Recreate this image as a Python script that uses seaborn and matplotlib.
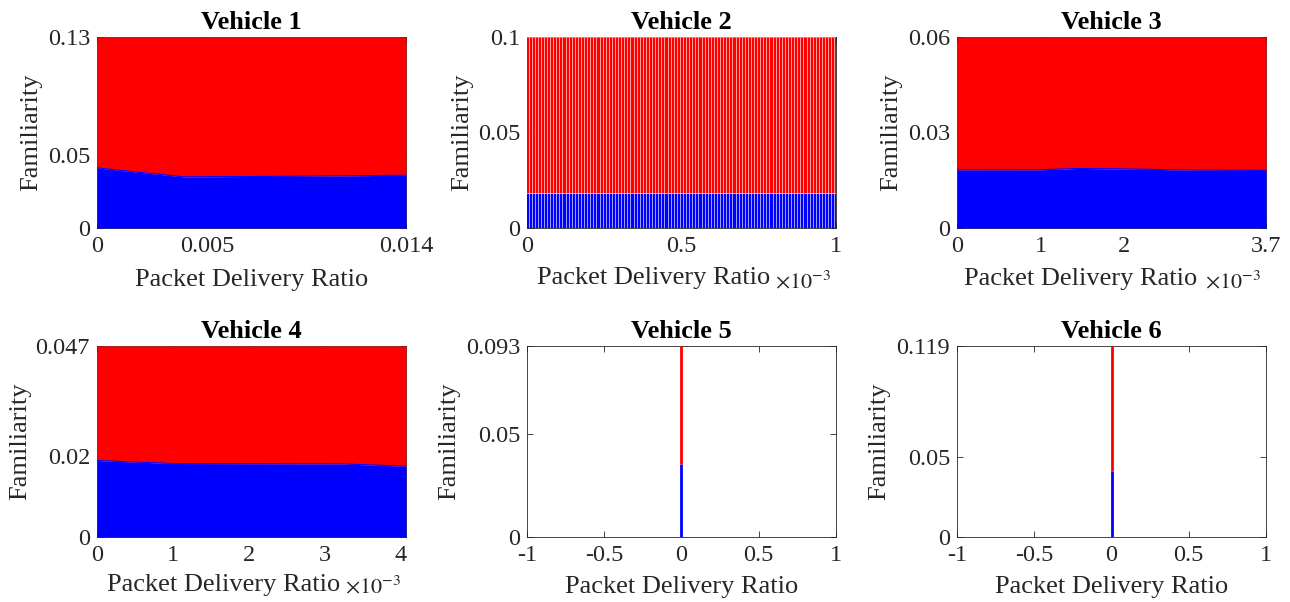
import numpy as np
import matplotlib
matplotlib.use("Agg")
import matplotlib.pyplot as plt
import seaborn as sns
from matplotlib.ticker import FixedLocator

# ---------------- data ----------------
titles = ["Vehicle 1", "Vehicle 2", "Vehicle 3", "Vehicle 4", "Vehicle 5", "Vehicle 6"]

v1_x = [0.0, 0.0039, 0.009, 0.014]
v1_blue = [0.0409, 0.0348, 0.0352, 0.0359]
v1_total = 0.13

v2_x = list(np.round(np.arange(0, 101) * 1e-5, 8))
v2_blue = [0.0184] * len(v2_x)
v2_total = 0.1

v3_x = [0.0, 0.001, 0.00145, 0.002, 0.0028, 0.0037]
v3_blue = [0.01825, 0.01828, 0.0187, 0.01855, 0.0182, 0.0181]
v3_total = 0.06

v4_x = [0.0, 0.001, 0.0032, 0.00407]
v4_blue = [0.01882, 0.01808, 0.0180, 0.01742]
v4_total = 0.047

v5_x = [0.0]
v5_blue = [0.0355]
v5_total = 0.093

v6_x = [0.0]
v6_blue = [0.0408]
v6_total = 0.119

yticks = [[0, 0.05, 0.13], [0, 0.05, 0.1], [0, 0.03, 0.06],
          [0, 0.02, 0.047], [0, 0.05, 0.093], [0, 0.05, 0.119]]
ytick_labels = [["0", "0.05", "0.13"], ["0", "0.05", "0.1"], ["0", "0.03", "0.06"],
                ["0", "0.02", "0.047"], ["0", "0.05", "0.093"], ["0", "0.05", "0.119"]]
xticks = [[0, 0.005, 0.014], [0, 0.0005, 0.001], [0, 0.001, 0.002, 0.0037],
          [0, 0.001, 0.002, 0.003, 0.004], [-1, -0.5, 0, 0.5, 1], [-1, -0.5, 0, 0.5, 1]]
xtick_labels = [["0", "0.005", "0.014"], ["0", "0.5", "1"], ["0", "1", "2", "3.7"],
                ["0", "1", "2", "3", "4"], ["-1", "-0.5", "0", "0.5", "1"],
                ["-1", "-0.5", "0", "0.5", "1"]]
xlims = [(0, 0.014), (0, 0.001), (0, 0.0037), (0, 0.00407), (-1, 1), (-1, 1)]

# ---------------- style ----------------
sns.set_theme(style="white")
plt.rcParams["font.family"] = ["Liberation Serif", "DejaVu Serif"]
plt.rcParams["mathtext.fontset"] = "stix"

TXT = "#262626"
RED = "#ff0000"
BLUE = "#0000ff"

fig = plt.figure(figsize=(12.9, 6.02), dpi=100)
lefts = [0.0752, 0.4085, 0.7419]
bottoms = [0.6213, 0.108]
W, H = 0.2395, 0.3173

axes = []
for r in range(2):
    for c in range(3):
        axes.append(fig.add_axes([lefts[c], bottoms[r], W, H]))

def area(ax, x, blue, total):
    x = np.asarray(x, float)
    b = np.asarray(blue, float)
    t = np.full_like(b, total)
    ax.fill_between(x, 0, b, color=BLUE, lw=0, zorder=3)
    ax.fill_between(x, b, t, color=RED, lw=0, zorder=3)
    sns.lineplot(x=x, y=b, ax=ax, color=BLUE, lw=0.8, zorder=3.1)

area(axes[0], v1_x, v1_blue, v1_total)
area(axes[2], v3_x, v3_blue, v3_total)
area(axes[3], v4_x, v4_blue, v4_total)

# Vehicle 2: stacked bars
ax = axes[1]
bx = np.asarray(v2_x)
bb = np.asarray(v2_blue)
ax.bar(bx, bb, width=1.0e-5, color=BLUE, edgecolor=(1, 1, 1, 0.6), lw=0.5, zorder=3)
ax.bar(bx, v2_total - bb, bottom=bb, width=1.0e-5, color=RED,
       edgecolor=(1, 1, 1, 0.6), lw=0.5, zorder=3)
ax.axhline(0, color="#2020a0", lw=1.0, zorder=3.2)

# Vehicles 5, 6: degenerate single-point areas (vertical lines)
for ax, x, b, t in [(axes[4], v5_x, v5_blue, v5_total), (axes[5], v6_x, v6_blue, v6_total)]:
    ax.vlines(x, 0, b, color=BLUE, lw=2, zorder=3)
    ax.vlines(x, b, t, color=RED, lw=2, zorder=3)

totals = [v1_total, v2_total, v3_total, v4_total, v5_total, v6_total]
ylab_x = [-0.214, -0.21, -0.214, -0.249, -0.252, -0.252]
xlab_x = [0.5, 0.41, 0.40, 0.41, 0.5, 0.5]
xlab_y = [-0.27, -0.262, -0.265, -0.252, -0.26, -0.26]

for i, ax in enumerate(axes):
    ax.set_xlim(*xlims[i])
    ax.set_ylim(0, totals[i])
    ax.xaxis.set_major_locator(FixedLocator(xticks[i]))
    ax.set_xticklabels(xtick_labels[i])
    ax.yaxis.set_major_locator(FixedLocator(yticks[i]))
    ax.set_yticklabels(ytick_labels[i])
    ax.tick_params(direction="in", length=4, width=0.6, colors=TXT,
                   labelsize=17.5, top=True, right=True, bottom=True, left=True)
    ax.tick_params(axis="x", pad=6)
    ax.tick_params(axis="y", pad=5)
    for s in ax.spines.values():
        s.set_color(TXT)
        s.set_linewidth(0.6)
    ax.set_title(titles[i], fontsize=19, fontweight="bold", color="black", pad=6)
    ax.set_ylabel("Familiarity", fontsize=19, color=TXT, va="center")
    ax.yaxis.set_label_coords(ylab_x[i], 0.5)
    ax.set_xlabel("Packet Delivery Ratio", fontsize=19, color=TXT, va="center")
    ax.xaxis.set_label_coords(xlab_x[i], xlab_y[i])
    ax.set_facecolor("white")

# exponent labels for scaled axes
for i, ypos in [(1, -0.285), (2, -0.285), (3, -0.26)]:
    ax = axes[i]
    ax.text(0.985, ypos, r"$\times 10^{-3}$", transform=ax.transAxes,
            ha="right", va="center", fontsize=16, color=TXT)

fig.savefig("out.png", dpi=100, facecolor="white")
